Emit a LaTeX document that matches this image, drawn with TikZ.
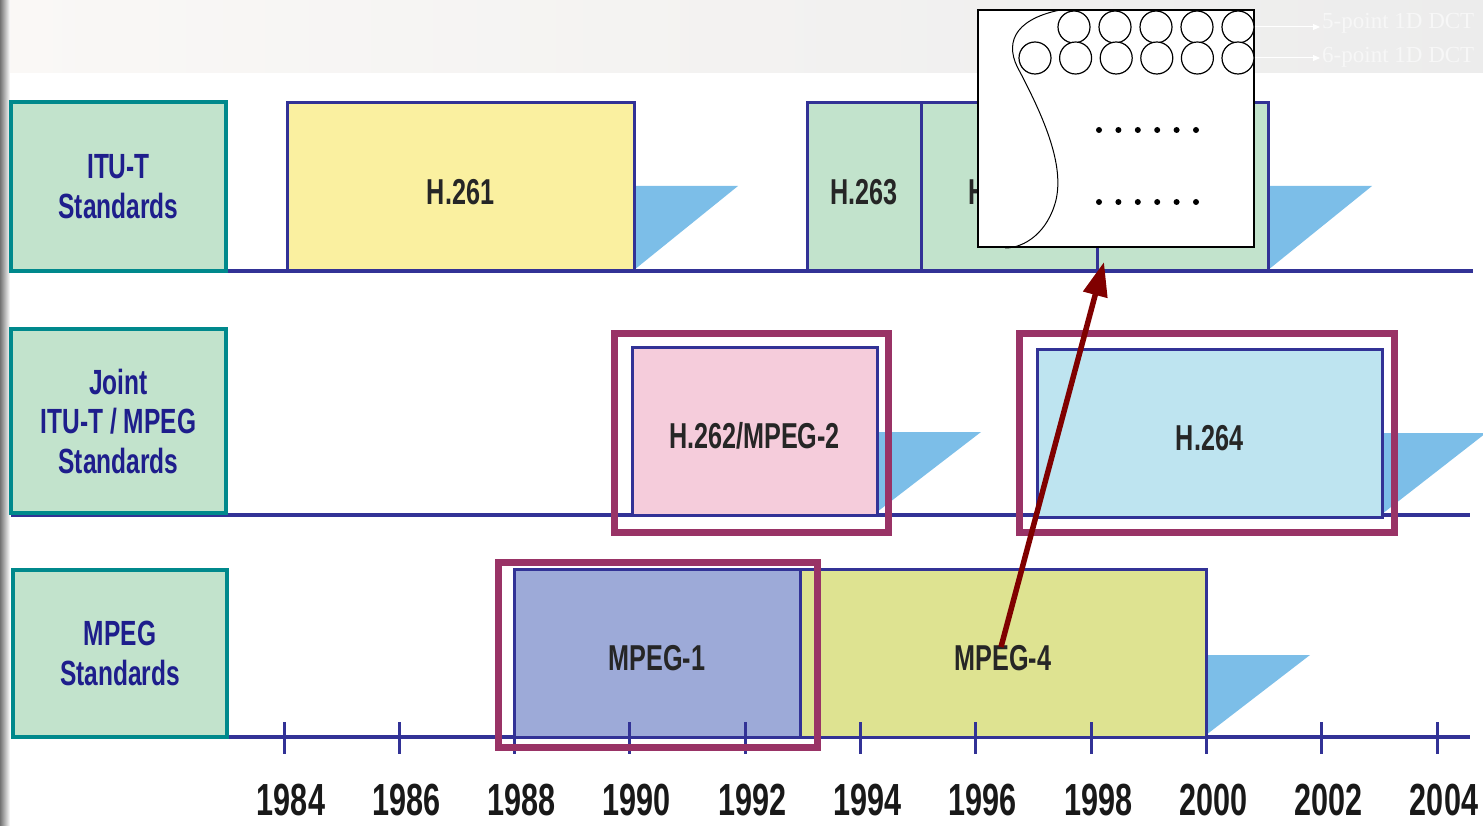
\documentclass[tikz,border=0pt]{standalone}
\usepackage{fontspec}
\usepackage{xcolor}
\usepackage{tikz}
\usetikzlibrary{arrows.meta, positioning, calc}
\newfontfamily\narrowsf[FakeStretch=0.7]{Liberation Sans}
\newfontfamily\yearsf[FakeStretch=0.68]{Liberation Sans}
\newfontfamily\dctserif{Liberation Serif}
\definecolor{stdteal}{RGB}{0, 137, 140}
\definecolor{stdgreen}{RGB}{194, 227, 204}
\definecolor{stdnavy}{RGB}{30, 30, 140}
\definecolor{stdblue}{RGB}{50, 50, 150}
\definecolor{hlmagenta}{RGB}{153, 51, 102}
\definecolor{wedgeblue}{RGB}{124, 190, 232}
\definecolor{h261fill}{RGB}{250, 240, 160}
\definecolor{h262fill}{RGB}{245, 204, 219}
\definecolor{h264fill}{RGB}{190, 228, 240}
\definecolor{mpeg1fill}{RGB}{157, 170, 216}
\definecolor{mpeg4fill}{RGB}{222, 227, 145}
\definecolor{arrowred}{RGB}{128, 0, 0}
\definecolor{bandleft}{RGB}{250, 248, 246}
\definecolor{bandright}{RGB}{236, 236, 236}
\definecolor{dcttext}{RGB}{247, 247, 247}
\tikzset{
    catbox/.style={rectangle, draw=stdteal, line width=3.5pt, fill=stdgreen, text=stdnavy, align=center, inner sep=0pt, font=\narrowsf\bfseries\fontsize{35}{39.5}\selectfont},
    stdbox/.style={rectangle, draw=stdblue, line width=3pt, text=black!85, inner sep=0pt, minimum height=168pt, text height=35pt, text depth=0pt, font=\narrowsf\bfseries\fontsize{36}{40}\selectfont},
    hlframe/.style={rectangle, draw=hlmagenta, line width=7pt, inner sep=0pt},
    wedge/.style={fill=wedgeblue},
    axisline/.style={draw=stdblue, line width=4pt},
    yeartick/.style={draw=stdblue, line width=3pt},
    yearlabel/.style={anchor=base, inner sep=0pt, text=black!90, font=\yearsf\bfseries\fontsize{45}{48}\selectfont},
    callout/.style={rectangle, draw=black, line width=1.2pt, fill=white, inner sep=0pt},
    dctcircle/.style={circle, draw=black, line width=1.2pt, fill=white, minimum size=32pt, inner sep=0pt},
    dctlabel/.style={anchor=base west, inner sep=2pt, text=dcttext, font=\dctserif\fontsize{23}{25}\selectfont},
    dctarrow/.style={draw=white, line width=1pt, -{Triangle[length=7pt, width=6pt]}},
    redarrow/.style={draw=arrowred, line width=5.5pt, -{Triangle[length=34pt, width=24pt]}}
}

\begin{document}
\begin{tikzpicture}[x=1pt, y=-1pt]
    \path[use as bounding box, clip] (0,0) rectangle (1483,826);
    \shade[left color=bandleft, right color=bandright] (0,0) rectangle (1483,73);
    \shade[left color=black!55, right color=white] (0,0) rectangle (10,826);

    % timelines
    \draw[axisline] (11,271) -- (1473,271);
    \draw[axisline] (11,515) -- (1470,515);
    \draw[axisline] (227,737) -- (1470,737);

    \foreach \xa/\ya/\yb in {634/186/270, 1268/186/270, 877/432/512, 1382/433/514, 1206/655/735}
        \fill[wedge] (\xa,\ya) -- ++(104,0) -- (\xa,\yb) -- cycle;

    % categories
    \node (itu) [catbox, minimum width=215pt, minimum height=169pt] at (118.5,186.5) {ITU-T\\Standards};
    \node (joint) [catbox, minimum width=215pt, minimum height=184pt] at (118.5,421) {Joint\\ITU-T / MPEG\\Standards};
    \node (mpeg) [catbox, minimum width=214pt, minimum height=167pt] at (120,653.5) {MPEG\\Standards};

    % standards
    \node (h261) [stdbox, fill=h261fill, minimum width=347pt] at (460.5,187) {H.261};
    \node (h263) [stdbox, fill=stdgreen, minimum width=114pt] at (864,187) {H.263};
    \node (h263p) [stdbox, fill=stdgreen, minimum width=176pt] at (1009,187) {H.263+};
    \node (h263pp) [stdbox, fill=stdgreen, minimum width=171pt] at (1182.5,187) {};
    \node (h262) [stdbox, fill=h262fill, minimum width=245pt] at (754.5,431) {H.262/MPEG-2};
    \node (h264) [stdbox, fill=h264fill, minimum width=345pt] at (1209.5,433) {H.264};
    \node (mpeg1) [stdbox, fill=mpeg1fill, minimum width=286pt] at (657,653) {MPEG-1};
    \node (mpeg4) [stdbox, fill=mpeg4fill, minimum width=406pt] at (1003,653) {MPEG-4};

    % years
    \foreach \yr [count=\i from 0] in {1984,1986,...,2004} {
        \pgfmathsetmacro{\tx}{284+115.3*\i}
        \draw[yeartick] (\tx,722) -- (\tx,754);
        \node (yr\yr) [yearlabel] at (\tx+7,815) {\yr};
    }

    \node (f262) [hlframe, minimum width=274pt, minimum height=199pt] at (751,432.5) {};
    \node (f264) [hlframe, minimum width=375pt, minimum height=199pt] at (1206.5,432.5) {};
    \node (fmpeg1) [hlframe, minimum width=319pt, minimum height=185pt] at (657.5,654.5) {};

    % DCT inset
    \node (inset) [callout, minimum width=276pt, minimum height=237pt] at (1116,128.5) {};
    \draw[line width=1pt] (1060,10) .. controls (1012,20) and (1004,45) .. (1020,72)
        .. controls (1045,120) and (1064,165) .. (1056,200)
        .. controls (1048,232) and (1025,248) .. (1005,248);
    \foreach \k in {1,...,5}
        \node (c5\k) [dctcircle] at (1033+41*\k,27) {};
    \foreach \k in {0,...,5}
        \node (c6\k) [dctcircle] at (1035+40.6*\k,58) {};
    \foreach \k in {0,...,5} {
        \fill (1099+19.4*\k,130) circle (3);
        \fill (1099+19.4*\k,202) circle (3);
    }

    \node (dct5) [dctlabel] at (1320,29) {5-point 1D DCT};
    \node (dct6) [dctlabel] at (1320,63) {6-point 1D DCT};
    \draw[dctarrow] (c55.east) -- (c55.east -| dct5.west);
    \draw[dctarrow] (c65.east) -- (c65.east -| dct6.west);

    \coordinate (src) at (1001,647);
    \coordinate (dst) at (1104,262);
    \draw[redarrow] (src) -- (dst);
\end{tikzpicture}
\end{document}
